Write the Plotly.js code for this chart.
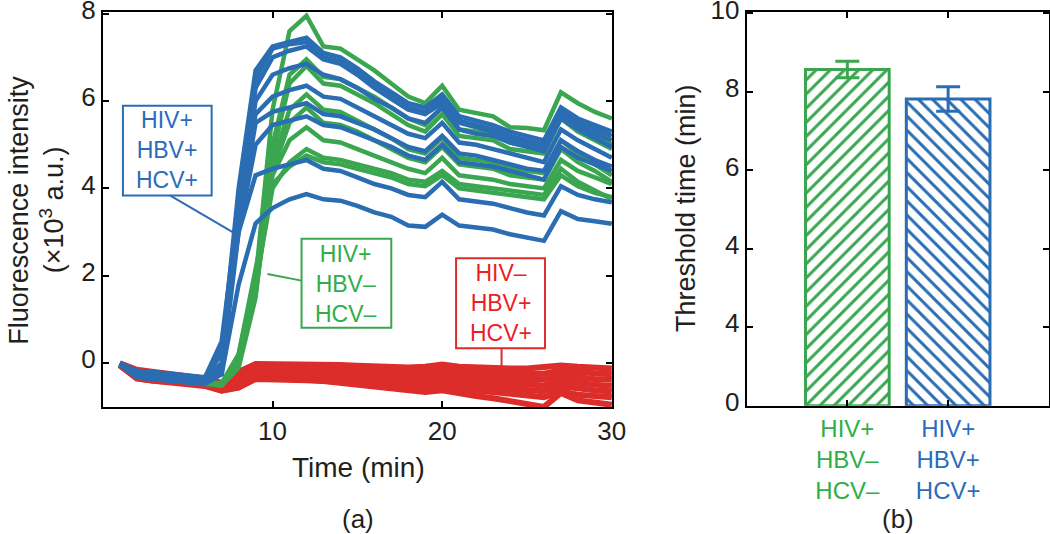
<!DOCTYPE html>
<html>
<head>
<meta charset="utf-8">
<script src="https://cdn.plot.ly/plotly-3.0.1.min.js"></script>
<style>
html, body { margin: 0; padding: 0; background: #fff; }
#chart { width: 1050px; height: 534px; }
</style>
</head>
<body>
<div id="chart"></div>
<script>
// time axis (min)
var time = [1,2,3,4,5,6,7,8,9,10,11,12,13,14,15,16,17,18,19,20,21,22,23,24,25,26,27,28,29,30];

// HIV+ HBV+ HCV+ (blue)
var blue1 = [0.0,-0.17,-0.2,-0.24,-0.27,-0.32,0.2,4.0,6.7,7.25,7.35,7.45,7.1,7.0,6.75,6.45,6.2,5.95,5.85,6.15,5.65,5.55,5.45,5.3,5.2,5.1,5.85,5.6,5.45,5.3];
var blue2 = [-0.02,-0.21,-0.24,-0.28,-0.31,-0.36,0.0,3.8,6.5,7.2,7.3,7.35,7.0,6.9,6.65,6.35,6.1,5.85,5.75,6.05,5.55,5.45,5.35,5.2,5.1,5.0,5.75,5.5,5.35,5.2];
var blue3 = [0.0,-0.25,-0.28,-0.32,-0.35,-0.4,-0.1,3.5,6.3,7.0,7.15,7.25,6.95,6.85,6.6,6.3,6.05,5.8,5.7,5.95,5.5,5.4,5.3,5.15,5.05,4.95,5.7,5.45,5.25,5.1];
var blue4 = [-0.03,-0.29,-0.32,-0.36,-0.39,-0.44,-0.2,3.3,6.0,6.6,6.75,6.85,6.6,6.5,6.3,6.05,5.85,5.6,5.5,5.85,5.35,5.25,5.2,5.05,4.95,4.85,5.6,5.35,5.15,4.95];
var blue5 = [0.0,-0.19,-0.22,-0.26,-0.29,-0.34,0.5,3.6,5.7,6.1,6.25,6.35,6.1,6.05,5.85,5.65,5.45,5.25,5.15,5.5,5.05,5.0,4.9,4.8,4.7,4.6,5.35,5.1,4.9,4.7];
var blue6 = [-0.02,-0.31,-0.35,-0.38,-0.41,-0.46,-0.1,3.2,5.5,5.75,5.85,5.95,5.7,5.65,5.5,5.35,5.15,4.95,4.85,5.2,4.8,4.75,4.65,4.55,4.45,4.4,5.1,4.85,4.65,4.5];
var blue7 = [-0.04,-0.33,-0.37,-0.4,-0.43,-0.48,-0.25,3.0,5.0,5.45,5.55,5.65,5.45,5.4,5.25,5.1,4.95,4.75,4.65,5.0,4.6,4.55,4.5,4.4,4.3,4.2,4.95,4.7,4.55,4.4];
var blue8 = [0.0,-0.23,-0.26,-0.3,-0.33,-0.38,0.3,3.0,4.3,4.45,4.55,4.65,4.45,4.4,4.25,4.1,4.0,3.85,3.8,4.15,3.75,3.7,3.65,3.55,3.45,3.38,4.05,3.85,3.75,3.68];
var blue9 = [-0.03,-0.27,-0.3,-0.34,-0.37,-0.42,-0.25,1.8,3.2,3.55,3.75,3.87,3.75,3.72,3.6,3.45,3.35,3.15,3.12,3.4,3.15,3.1,3.06,2.95,2.87,2.8,3.48,3.3,3.25,3.19];

// HIV+ HBV- HCV- (green)
var green1 = [-0.02,-0.28,-0.32,-0.36,-0.4,-0.45,-0.5,0.1,1.9,5.8,7.6,7.95,7.25,7.2,6.95,6.7,6.4,6.1,5.95,6.35,5.8,5.72,5.65,5.4,5.38,5.33,6.2,5.95,5.75,5.6];
var green2 = [-0.03,-0.3,-0.34,-0.38,-0.42,-0.47,-0.5,0.0,1.6,5.0,6.6,6.95,6.55,6.5,6.3,6.1,5.85,5.6,5.45,5.85,5.35,5.3,5.25,5.05,5.0,4.95,5.75,5.45,5.2,5.0];
var green3 = [-0.02,-0.29,-0.33,-0.37,-0.41,-0.46,-0.52,-0.1,1.5,4.8,6.4,6.8,6.4,6.35,6.15,5.95,5.7,5.45,5.3,5.7,5.2,5.15,5.1,4.9,4.85,4.8,5.6,5.3,5.1,4.9];
var green4 = [-0.03,-0.31,-0.35,-0.39,-0.43,-0.48,-0.45,0.1,1.9,4.6,5.8,6.15,5.8,5.75,5.55,5.35,5.15,4.9,4.8,5.15,4.7,4.65,4.6,4.45,4.4,4.35,5.1,4.8,4.55,4.3];
var green5 = [-0.02,-0.3,-0.34,-0.38,-0.42,-0.47,-0.5,0.0,1.6,4.4,5.5,5.85,5.5,5.45,5.3,5.1,4.9,4.7,4.6,4.95,4.55,4.5,4.45,4.3,4.25,4.2,4.9,4.6,4.4,4.15];
var green6 = [-0.03,-0.29,-0.33,-0.37,-0.41,-0.46,-0.45,0.2,2.0,4.3,5.1,5.4,5.1,5.05,4.9,4.75,4.6,4.45,4.35,4.7,4.3,4.25,4.2,4.1,4.05,4.0,4.65,4.4,4.25,4.1];
var green7 = [-0.02,-0.31,-0.35,-0.39,-0.43,-0.48,-0.5,0.1,1.8,4.0,4.6,4.9,4.7,4.65,4.55,4.45,4.35,4.2,4.15,4.4,4.1,4.05,4.0,3.95,3.9,3.85,4.45,4.15,3.95,3.75];
var green8 = [-0.03,-0.3,-0.34,-0.38,-0.42,-0.47,-0.5,0.2,2.2,4.1,4.5,4.75,4.6,4.55,4.45,4.35,4.25,4.1,4.05,4.3,4.0,3.95,3.9,3.85,3.8,3.75,4.3,4.05,3.9,3.8];

// HIV- HBV+ HCV+ (red)
var red1 = [0.0,-0.15,-0.2,-0.25,-0.28,-0.35,-0.45,-0.2,-0.02,-0.02,-0.02,-0.02,-0.03,-0.04,-0.06,-0.08,-0.1,-0.1,-0.08,-0.03,-0.08,-0.1,-0.12,-0.12,-0.12,-0.1,-0.05,-0.08,-0.1,-0.12];
var red2 = [-0.01,-0.19,-0.24,-0.28,-0.31,-0.38,-0.48,-0.27,-0.09,-0.09,-0.09,-0.09,-0.1,-0.12,-0.14,-0.16,-0.19,-0.19,-0.18,-0.13,-0.18,-0.21,-0.23,-0.24,-0.24,-0.24,-0.17,-0.21,-0.23,-0.25];
var red3 = [-0.02,-0.23,-0.28,-0.32,-0.35,-0.41,-0.52,-0.34,-0.15,-0.15,-0.16,-0.16,-0.18,-0.2,-0.22,-0.25,-0.27,-0.28,-0.28,-0.24,-0.29,-0.31,-0.34,-0.35,-0.36,-0.37,-0.29,-0.34,-0.36,-0.38];
var red4 = [-0.03,-0.27,-0.32,-0.35,-0.38,-0.44,-0.55,-0.41,-0.22,-0.22,-0.24,-0.24,-0.25,-0.27,-0.31,-0.33,-0.36,-0.38,-0.38,-0.34,-0.39,-0.42,-0.44,-0.47,-0.48,-0.51,-0.41,-0.46,-0.49,-0.52];
var red5 = [-0.04,-0.31,-0.36,-0.39,-0.42,-0.47,-0.59,-0.48,-0.28,-0.28,-0.31,-0.31,-0.33,-0.35,-0.39,-0.42,-0.44,-0.47,-0.48,-0.45,-0.5,-0.52,-0.55,-0.58,-0.6,-0.64,-0.53,-0.59,-0.62,-0.65];
var red6 = [-0.05,-0.35,-0.4,-0.42,-0.45,-0.5,-0.62,-0.55,-0.35,-0.35,-0.38,-0.38,-0.4,-0.43,-0.47,-0.5,-0.53,-0.56,-0.58,-0.55,-0.6,-0.63,-0.66,-0.7,-0.72,-0.78,-0.65,-0.72,-0.75,-0.78];
var red7 = [-0.05,-0.35,-0.4,-0.43,-0.47,-0.52,-0.63,-0.56,-0.36,-0.36,-0.38,-0.39,-0.41,-0.45,-0.5,-0.55,-0.58,-0.62,-0.66,-0.62,-0.7,-0.75,-0.8,-0.86,-0.92,-1.0,-0.68,-0.85,-0.9,-0.95];

// threshold time (b)
var groups = ['HIV+<br>HBV–<br>HCV–', 'HIV+<br>HBV+<br>HCV+'];
var thresh = [8.57, 7.82];
var threshErr = [0.21, 0.31];
var yTickText = ['0','4','4','6','8','10'];

var BLUE = '#2a6db3';
var GREEN = '#3ba650';
var RED = '#dc2d2a';
var BLUE_TXT = '#2a6bbd';
var GREEN_TXT = '#2fae48';
var RED_TXT = '#ea1f25';
var FONT = 'Arial, "Liberation Sans", sans-serif';

var data = [];
function addLines(list, col, w) {
    for (var i = 0; i < list.length; i++) {
        data.push({
            x: time, y: list[i], type: 'scatter', mode: 'lines',
            line: {color: col, width: w}, xaxis: 'x', yaxis: 'y',
            showlegend: false, hoverinfo: 'skip'
        });
    }
}
addLines([red1, red2, red3, red4, red5, red6, red7], RED, 6);
addLines([green1, green2, green3, green4, green5, green6, green7, green8], GREEN, 4.5);
addLines([blue1, blue2, blue3, blue4, blue5, blue6, blue7, blue8, blue9], BLUE, 4.5);

var barCols = [GREEN, BLUE];
var barTxt = [GREEN_TXT, BLUE_TXT];
var hatch = ['/', '\\'];
for (var k = 0; k < 2; k++) {
    data.push({
        x: [k], y: [thresh[k]], type: 'bar', width: 0.83,
        xaxis: 'x2', yaxis: 'y2', showlegend: false, hoverinfo: 'skip',
        marker: {
            color: '#fff',
            line: {color: barCols[k], width: 3},
            pattern: {shape: hatch[k], fgcolor: barCols[k], bgcolor: '#fff', size: 10, solidity: 0.3}
        },
        error_y: {type: 'data', array: [threshErr[k]], color: barCols[k], thickness: 3, width: 12}
    });
}

var axisBase = {
    showline: true, linewidth: 2, linecolor: '#000', mirror: 'ticks',
    ticks: 'inside', ticklen: 6, tickwidth: 2, tickcolor: '#000',
    showgrid: false, zeroline: false,
    tickfont: {family: FONT, size: 26, color: '#231f20'}
};
function ax(extra) {
    var o = {};
    for (var p in axisBase) o[p] = axisBase[p];
    for (var q in extra) o[q] = extra[q];
    return o;
}

var tickLabels = groups.map(function(g, i) {
    return g.split('<br>').map(function(s) {
        return '<span style="color:' + barTxt[i] + '">' + s + '</span>';
    }).join('<br>');
});

// boxed labels in the left panel: box and leader drawn as shapes
var shapes = [];
var notes = [];
function boxed(text, cx, cy, x0, x1, y0, y1, col, txt, lead) {
    shapes.push({type: 'rect', xref: 'x', yref: 'y', x0: x0, x1: x1, y0: y0, y1: y1,
        line: {color: col, width: 2}, fillcolor: '#fff', layer: 'above'});
    shapes.push({type: 'line', xref: 'x', yref: 'y', x0: lead[0], y0: lead[1], x1: lead[2], y1: lead[3],
        line: {color: col, width: 2}, layer: 'above'});
    notes.push({xref: 'x', yref: 'y', x: cx, y: cy, text: text, showarrow: false,
        xanchor: 'center', yanchor: 'middle', font: {family: FONT, size: 23, color: txt}});
}
boxed('HIV+<br>HBV+<br>HCV+', 3.79, 4.87, 1.18, 6.41, 3.84, 5.89, BLUE, BLUE_TXT, [3.95, 3.84, 7.65, 3.0]);
boxed('HIV+<br>HBV–<br>HCV–', 14.35, 1.82, 11.71, 17.0, 0.81, 2.85, GREEN, GREEN_TXT, [11.71, 1.89, 9.7, 2.04]);
boxed('HIV–<br>HBV+<br>HCV+', 23.44, 1.38, 20.82, 26.06, 0.34, 2.4, RED, RED_TXT, [23.5, 0.34, 23.5, -0.13]);

function label(text, x, y, size, angle) {
    return {
        xref: 'paper', yref: 'paper', x: x, y: y, text: text, showarrow: false,
        textangle: angle || 0, xanchor: 'center', yanchor: 'middle',
        font: {family: FONT, size: size, color: '#231f20'}
    };
}
notes.push(label('Fluorescence intensity', 0.018, 0.607, 27, -90));
notes.push(label('(×10<sup>3</sup> a.u.)', 0.049, 0.607, 27, -90));
notes.push(label('Time (min)', 0.341, 0.125, 28));
notes.push(label('(a)', 0.341, 0.028, 26));
notes.push(label('Threshold time (min)', 0.654, 0.61, 27, -90));
notes.push(label('(b)', 0.855, 0.028, 26));

var layout = {
    width: 1050, height: 534,
    margin: {l: 0, r: 0, t: 0, b: 0},
    paper_bgcolor: '#fff', plot_bgcolor: '#fff',
    barmode: 'overlay',
    xaxis: ax({domain: [0.098, 0.583], range: [0, 30.02], tickvals: [10, 20, 30], anchor: 'y'}),
    yaxis: ax({domain: [0.238, 0.977], range: [-1, 8.03], tickvals: [0, 2, 4, 6, 8], anchor: 'x',
        ticklabeloverflow: 'allow', ticklabelshift: -4}),
    xaxis2: ax({domain: [0.711, 0.999], range: [-1, 2], tickvals: [0, 1], ticktext: tickLabels, anchor: 'y2',
        tickfont: {family: FONT, size: 24, color: '#231f20'}}),
    yaxis2: ax({domain: [0.24, 0.977], range: [0, 10.03], tickvals: [0, 2, 4, 6, 8, 10], ticktext: yTickText, anchor: 'x2',
        ticklabeloverflow: 'allow', ticklabelshift: -4}),
    shapes: shapes,
    annotations: notes
};

Plotly.newPlot('chart', data, layout, {displayModeBar: false, staticPlot: true});
</script>
</body>
</html>
